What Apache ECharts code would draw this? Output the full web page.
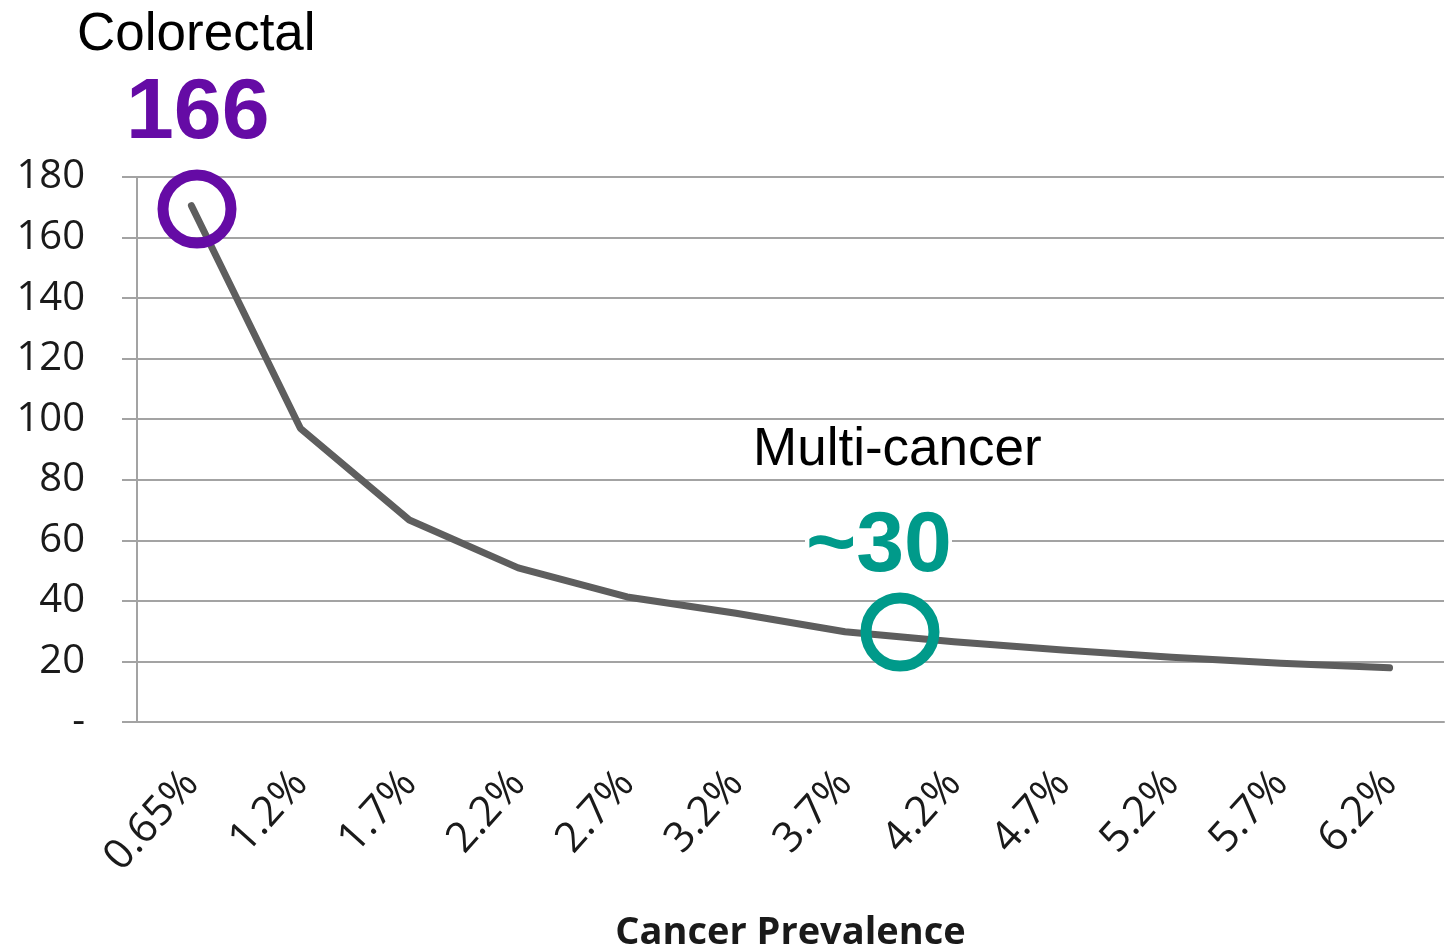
<!DOCTYPE html>
<html>
<head>
<meta charset="utf-8">
<script src="https://cdn.jsdelivr.net/npm/echarts@6/dist/echarts.min.js"></script>
<style>
  html, body { margin: 0; padding: 0; background: #fff; }
  #main { width: 1450px; height: 950px; }
</style>
</head>
<body>
<div id="main"></div>
<script>
// prevalence categories and number needed to screen
var prevalence = ['0.65%', '1.2%', '1.7%', '2.2%', '2.7%', '3.2%', '3.7%', '4.2%', '4.7%', '5.2%', '5.7%', '6.2%'];
var screened = [170.5, 97, 66.7, 50.9, 41.3, 35.9, 29.8, 26.5, 23.8, 21.4, 19.4, 17.9];

var purple = '#650ba5';
var teal = '#009a8a';
var gridColor = '#a3a3a3';
var axisFont = "'Open Sans', 'Liberation Sans', sans-serif";

var chart = echarts.init(document.getElementById('main'));

var option = {
  animation: false,
  backgroundColor: '#fff',
  grid: { left: 137, right: 6, top: 177, bottom: 228, containLabel: false, outerBoundsMode: 'none' },
  xAxis: {
    type: 'category',
    data: prevalence,
    boundaryGap: true,
    name: 'Cancer Prevalence',
    nameLocation: 'middle',
    nameGap: 192,
    nameTextStyle: { fontFamily: axisFont, fontWeight: 'bold', fontSize: 38, color: '#1a1a1a' },
    axisLine: { lineStyle: { color: gridColor, width: 2 } },
    axisTick: { length: 15, lineStyle: { color: gridColor, width: 2 } },
    axisLabel: { rotate: 48, margin: 55, fontFamily: axisFont, fontSize: 42, color: '#1a1a1a', interval: 0 },
    splitLine: { show: false }
  },
  yAxis: {
    type: 'value',
    min: 0,
    max: 180,
    interval: 20,
    axisLine: { show: true, lineStyle: { color: gridColor, width: 2 } },
    axisTick: { show: true, length: 15, lineStyle: { color: gridColor, width: 2 } },
    axisLabel: {
      margin: 52,
      fontFamily: axisFont,
      fontSize: 40,
      color: '#1a1a1a',
      formatter: function (v) { return v === 0 ? '-' : String(v); }
    },
    splitLine: { lineStyle: { color: gridColor, width: 2 } }
  },
  series: [{
    type: 'line',
    data: screened,
    symbol: 'none',
    lineStyle: { color: '#5e5e5e', width: 7, cap: 'round', join: 'round' },
    z: 3
  }],
  graphic: [
    { type: 'text', z: 100, left: 77, top: 9,
      style: { text: 'Colorectal', font: '53px "Liberation Sans", Arial, sans-serif', fill: '#000' } },
    { type: 'text', z: 100, left: 126, top: 71,
      style: { text: '166', font: 'bold 86px "Liberation Sans", Arial, sans-serif', fill: purple } },
    { type: 'circle', z: 100, shape: { cx: 197, cy: 209, r: 34 },
      style: { fill: 'none', stroke: purple, lineWidth: 11 } },
    { type: 'text', z: 100, left: 753, top: 424,
      style: { text: 'Multi-cancer', font: '53px "Liberation Sans", Arial, sans-serif', fill: '#000' } },
    { type: 'rect', z: 99, shape: { x: 805, y: 510, width: 147, height: 70 },
      style: { fill: '#fff' } },
    { type: 'text', z: 100, left: 806, top: 504,
      style: { text: '~30', font: 'bold 86px "Liberation Sans", Arial, sans-serif', fill: teal } },
    { type: 'circle', z: 100, shape: { cx: 900, cy: 632, r: 34 },
      style: { fill: 'none', stroke: teal, lineWidth: 11 } }
  ]
};

chart.setOption(option);
</script>
</body>
</html>
